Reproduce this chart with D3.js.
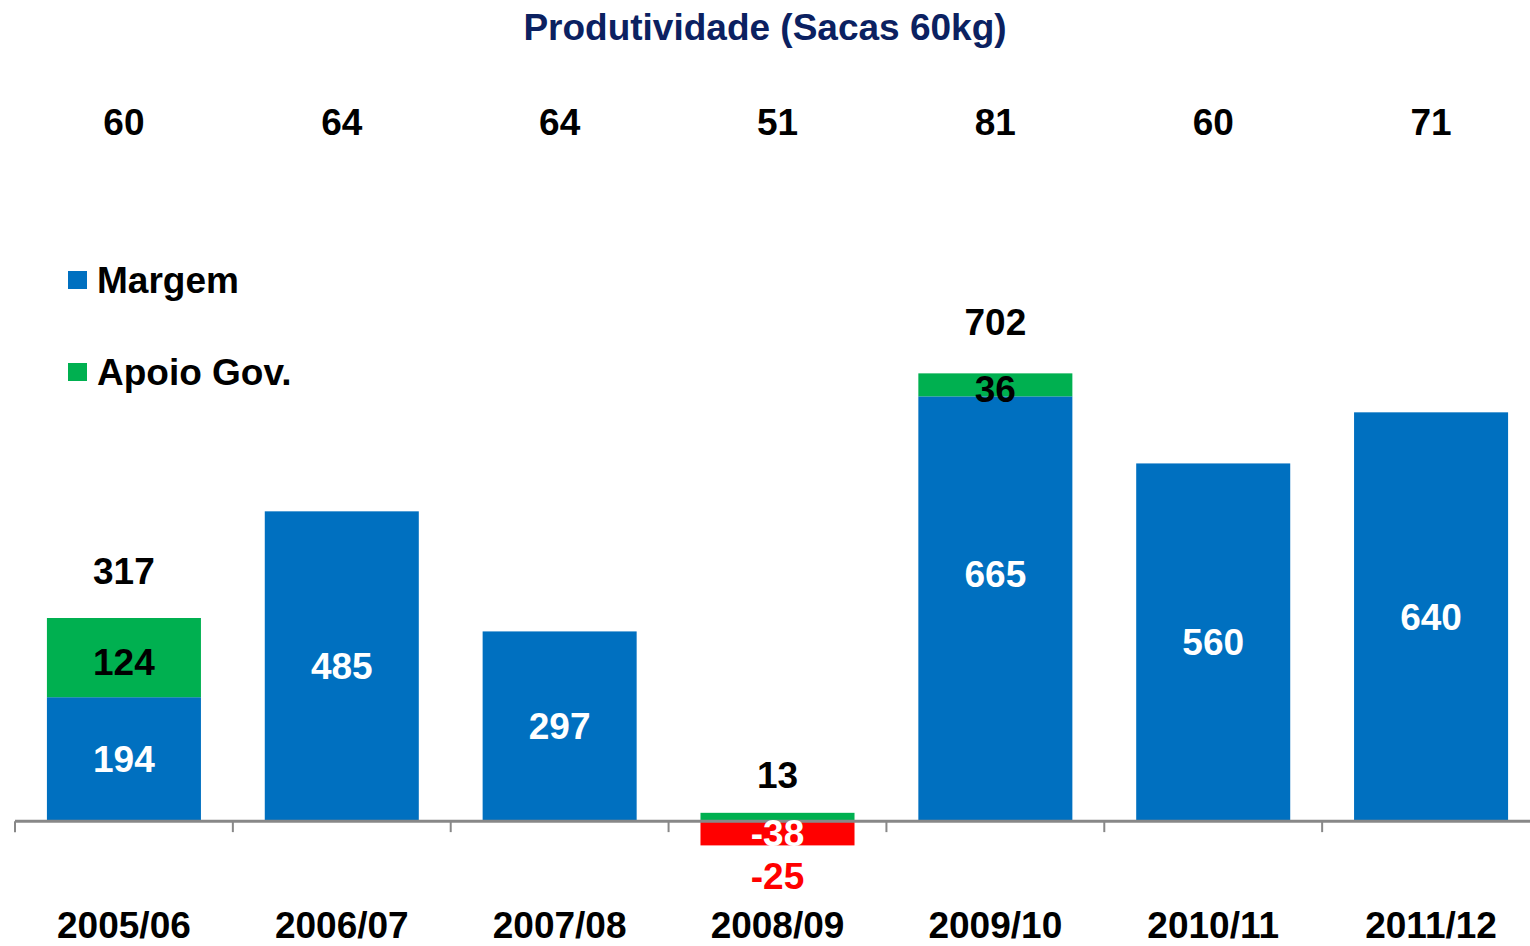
<!DOCTYPE html>
<html>
<head>
<meta charset="utf-8">
<script src="https://cdn.jsdelivr.net/npm/d3@7"></script>
<style>
  html, body { margin: 0; padding: 0; background: #fff; }
  svg { display: block; font-family: "Liberation Sans", Arial, sans-serif; font-weight: bold; }
</style>
</head>
<body>
<div id="chart"></div>
<script>
const categories = ["2005/06", "2006/07", "2007/08", "2008/09", "2009/10", "2010/11", "2011/12"];
const produtividade = [60, 64, 64, 51, 81, 60, 71];
const margem = [194, 485, 297, -38, 665, 560, 640];
const apoio = [124, 0, 0, 13, 36, 0, 0];
const totals = [317, null, null, -25, 702, null, null];

const width = 1530, height = 946;
const blue = "#0070C0", green = "#00B050", red = "#FF0000";

const svg = d3.select("#chart").append("svg")
  .attr("width", width)
  .attr("height", height);

const x = d3.scaleBand()
  .domain(categories)
  .range([15, 1540])
  .paddingInner(0.293)
  .paddingOuter(0.1465);

const y = d3.scaleLinear()
  .domain([-100, 700])
  .range([885, 374]);

const rows = categories.map((c, i) => ({ cat: c, margem: margem[i], apoio: apoio[i] }));
const stack = d3.stack().keys(["margem", "apoio"]).offset(d3.stackOffsetDiverging);
const series = stack(rows);

// bars
series.forEach(s => {
  svg.append("g").selectAll("rect")
    .data(s)
    .join("rect")
    .attr("x", d => x(d.data.cat))
    .attr("width", x.bandwidth())
    .attr("y", d => y(Math.max(d[0], d[1])))
    .attr("height", d => Math.abs(y(d[0]) - y(d[1])))
    .attr("fill", d => s.key === "apoio" ? green : (d.data.margem < 0 ? red : blue));
});

// axis
const axisY = y(0);
svg.append("line")
  .attr("x1", 15).attr("x2", width)
  .attr("y1", axisY).attr("y2", axisY)
  .attr("stroke", "#888").attr("stroke-width", 3);
d3.range(categories.length).forEach(i => {
  const tx = x.range()[0] + i * x.step();
  svg.append("line")
    .attr("x1", tx).attr("x2", tx)
    .attr("y1", axisY).attr("y2", axisY + 11)
    .attr("stroke", "#888").attr("stroke-width", 2);
});

const fs = 37;

// category labels
svg.append("g").selectAll("text")
  .data(categories)
  .join("text")
  .attr("x", d => x(d) + x.bandwidth() / 2)
  .attr("y", 925)
  .attr("dy", "0.35em")
  .attr("text-anchor", "middle")
  .style("font-size", fs + "px")
  .attr("fill", "#000")
  .text(d => d);

// produtividade row
svg.append("g").selectAll("text")
  .data(produtividade)
  .join("text")
  .attr("x", (d, i) => x(categories[i]) + x.bandwidth() / 2)
  .attr("y", 122)
  .attr("dy", "0.35em")
  .attr("text-anchor", "middle")
  .style("font-size", fs + "px")
  .attr("fill", "#000")
  .text(d => d);

// title
svg.append("text")
  .attr("x", 765)
  .attr("y", 27)
  .attr("dy", "0.35em")
  .attr("text-anchor", "middle")
  .style("font-size", fs + "px")
  .attr("fill", "#0B2161")
  .text("Produtividade (Sacas 60kg)");

// margem labels
svg.append("g").selectAll("text")
  .data(rows)
  .join("text")
  .attr("x", d => x(d.cat) + x.bandwidth() / 2)
  .attr("y", d => (y(0) + y(d.margem)) / 2 - (d.margem > 0 && d.apoio > 0 && d.apoio < 50 ? 35 : 0))
  .attr("dy", "0.35em")
  .attr("text-anchor", "middle")
  .style("font-size", fs + "px")
  .attr("fill", "#fff")
  .text(d => d.margem);

// apoio labels
svg.append("g").selectAll("text")
  .data(rows.filter(d => d.apoio > 0))
  .join("text")
  .attr("x", d => x(d.cat) + x.bandwidth() / 2)
  .attr("y", d => {
    const base = Math.max(d.margem, 0);
    const top = base + d.apoio;
    return d.margem < 0 ? y(top) - 38 : (y(base) + y(top)) / 2 + 4;
  })
  .attr("dy", "0.35em")
  .attr("text-anchor", "middle")
  .style("font-size", fs + "px")
  .attr("fill", "#000")
  .text(d => d.apoio);

// total labels
svg.append("g").selectAll("text")
  .data(totals.map((t, i) => ({ t, i })).filter(d => d.t !== null))
  .join("text")
  .attr("x", d => x(categories[d.i]) + x.bandwidth() / 2)
  .attr("y", d => d.t < 0 ? y(margem[d.i]) + 31 : y(margem[d.i] + apoio[d.i]) - 47 - (d.t > 500 ? 4 : 0))
  .attr("dy", "0.35em")
  .attr("text-anchor", "middle")
  .style("font-size", fs + "px")
  .attr("fill", d => d.t < 0 ? red : "#000")
  .text(d => d.t);

// legend
const legend = [{ name: "Margem", color: blue }, { name: "Apoio Gov.", color: green }];
const lg = svg.append("g").selectAll("g")
  .data(legend)
  .join("g")
  .attr("transform", (d, i) => `translate(68,${280 + i * 92})`);
lg.append("rect")
  .attr("x", 0).attr("y", -9)
  .attr("width", 19).attr("height", 18)
  .attr("fill", d => d.color);
lg.append("text")
  .attr("x", 29)
  .attr("dy", "0.35em")
  .style("font-size", fs + "px")
  .attr("fill", "#000")
  .text(d => d.name);
</script>
</body>
</html>
